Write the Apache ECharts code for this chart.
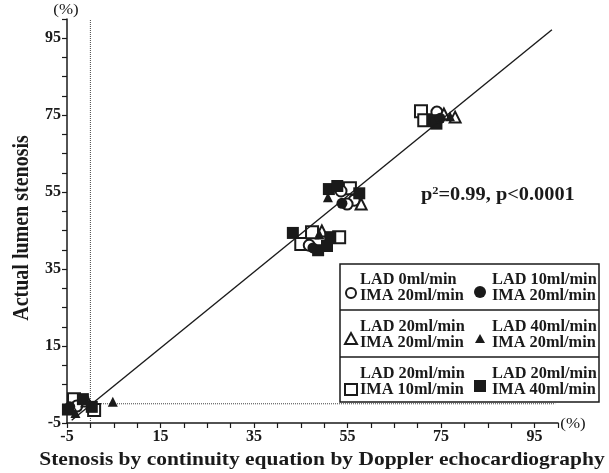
<!DOCTYPE html>
<html><head><meta charset="utf-8">
<script src="https://cdn.jsdelivr.net/npm/echarts@6/dist/echarts.min.js"></script>
<style>html,body{margin:0;padding:0;background:#fff}#c{width:609px;height:473px}</style>
</head><body><div id="c"></div>
<script>
// Data: [Doppler stenosis %, actual lumen stenosis %]
const circleOpen   = [[-2.9,-0.6],[46.8,41.2],[53.6,55.3],[56.4,52.9],[54.9,51.9],[74.1,75.8]];
const circleFilled = [[-4.4,-0.8],[47.6,40.5],[53.8,52.1],[74.8,74.2]];
const triOpen      = [[-0.7,0.7],[49.5,44.9],[57.9,51.9],[75.6,75.3],[78,74.5]];
const triFilled    = [[4.8,0.5],[-3.2,-2.4],[49,44],[50.8,53.7],[76.9,74.7]];
const squareOpen   = [[-3.5,1.2],[0.8,-1.6],[45.1,41.5],[47.4,44.6],[53.2,43.3],[55.5,56],[70.7,76],[71.4,73.7]];
const squareFilled = [[-4.8,-1.5],[-1.6,1.2],[0.3,-0.8],[43.3,44.4],[51.3,43.3],[48.7,39.9],[50.6,41],[51,55.8],[52.8,56.6],[57.5,54.7],[73.1,73.7],[74,72.8]];
const identityLine = [[-4,-4.3],[98.7,97.2]];
const refV = [[0,-5],[0,100]];
const refH = [[-5,0],[99.4,0]];
const axisMin = -5, axisMax = 100, tickStep = 5, labelStep = 20;
const legendRows = [
  ['LAD 0ml/min\nIMA 20ml/min','LAD 10ml/min\nIMA 20ml/min'],
  ['LAD 20ml/min\nIMA 20ml/min','LAD 40ml/min\nIMA 20ml/min'],
  ['LAD 20ml/min\nIMA 10ml/min','LAD 20ml/min\nIMA 40ml/min']
];
const xTitle = 'Stenosis by continuity equation by Doppler echocardiography';
const yTitle = 'Actual lumen stenosis';

const FONT = '"Liberation Serif","Times New Roman",serif';
const INK = '#1a1a1a';
const SX = 1.13;
const chart = echarts.init(document.getElementById('c'));
const fmt = v => ((v - axisMin) % labelStep === 0 ? String(v) : '');
function axis(){
  return {
    type:'value', min:axisMin, max:axisMax, interval:tickStep,
    axisLine:{show:true, onZero:false, lineStyle:{color:INK, width:1.5}},
    axisTick:{show:true, inside:false, length:5, lineStyle:{color:INK, width:1.2}},
    axisLabel:{formatter:fmt, color:INK, fontFamily:FONT, fontWeight:'bold', fontSize:16, margin:6},
    splitLine:{show:false}
  };
}
function scatter(data, symbol, filled, size){
  return {type:'scatter', data, symbol, symbolSize:size||11, z:5,
    itemStyle:{color: filled? INK : '#fff', borderColor:INK, borderWidth: filled?0:2, opacity:1}};
}
const triPath = 'path://M0,10 L5,0 L10,10 Z';
const series = [
  {type:'line', data:refV, symbol:'none', lineStyle:{color:'#444', width:1, type:'dotted'}, z:1},
  {type:'line', data:refH, symbol:'none', lineStyle:{color:'#444', width:1, type:'dotted'}, z:1},
  scatter(squareOpen,'rect',false,12),
  scatter(circleOpen,'circle',false,11),
  scatter(triOpen,triPath,false,11),
  scatter(squareFilled,'rect',true,12),
  scatter(circleFilled,'circle',true,11),
  scatter(triFilled,triPath,true,10),
  {type:'line', data:identityLine, symbol:'none', lineStyle:{color:INK, width:1.4}, z:6}
];

const g = [];
const bx = 340, by = 264, bw = 259, bh = 138;
g.push({type:'rect', shape:{x:bx,y:by,width:bw,height:bh}, style:{fill:'#fff', stroke:INK, lineWidth:1.5}, z:10});
g.push({type:'line', shape:{x1:bx,y1:310,x2:bx+bw,y2:310}, style:{stroke:INK, lineWidth:1.5}, z:11});
g.push({type:'line', shape:{x1:bx,y1:357,x2:bx+bw,y2:357}, style:{stroke:INK, lineWidth:1.5}, z:11});
const rowY = [288, 335, 382];
const symDefs = [
  [{type:'circle', shape:{cx:351,cy:293,r:5}, style:{fill:'#fff', stroke:INK, lineWidth:2}},
   {type:'circle', shape:{cx:480,cy:292,r:6}, style:{fill:INK}}],
  [{type:'polygon', shape:{points:[[345,344],[351,333],[357,344]]}, style:{fill:'#fff', stroke:INK, lineWidth:2}},
   {type:'polygon', shape:{points:[[475,343],[480,334],[485,343]]}, style:{fill:INK}}],
  [{type:'rect', shape:{x:345,y:384,width:12,height:11}, style:{fill:'#fff', stroke:INK, lineWidth:2}},
   {type:'rect', shape:{x:474,y:380,width:12,height:12}, style:{fill:INK}}]
];
legendRows.forEach((row,i)=>{
  row.forEach((txt,j)=>{
    g.push({type:'text', x: j===0?360:492, y: rowY[i], scaleX:1.02, z:12,
      style:{text:txt, fill:INK, font:'bold 16px '+FONT, lineHeight:16, verticalAlign:'middle', align:'left'}});
    g.push(Object.assign({z:12}, symDefs[i][j]));
  });
});
g.push({type:'text', x:421, y:195, scaleX:SX, z:12, style:{rich:{a:{font:'bold 18px '+FONT, fill:INK}, s:{font:'bold 11px '+FONT, fill:INK, verticalAlign:'top', padding:[0,0,8,0]}},
  text:'{a|p}{s|2}{a|=0.99, p<0.0001}', verticalAlign:'middle'}});
g.push({type:'text', x:322, y:460, scaleX:SX, z:12, style:{text:xTitle, font:'bold 19px '+FONT, fill:INK, align:'center', verticalAlign:'middle'}});
g.push({type:'text', x:22, y:228, rotation:Math.PI/2, scaleY:SX, z:12, style:{text:yTitle, font:'bold 20px '+FONT, fill:INK, align:'center', verticalAlign:'middle'}});
g.push({type:'text', x:66, y:10, scaleX:SX, z:12, style:{text:'(%)', font:'15px '+FONT, fill:INK, align:'center', verticalAlign:'middle'}});
g.push({type:'text', x:573, y:424, scaleX:SX, z:12, style:{text:'(%)', font:'15px '+FONT, fill:INK, align:'center', verticalAlign:'middle'}});

chart.setOption({
  animation:false,
  grid:{left:67, right:51, top:19, bottom:50},
  xAxis:axis(), yAxis:axis(),
  series, graphic:g
});
</script></body></html>
